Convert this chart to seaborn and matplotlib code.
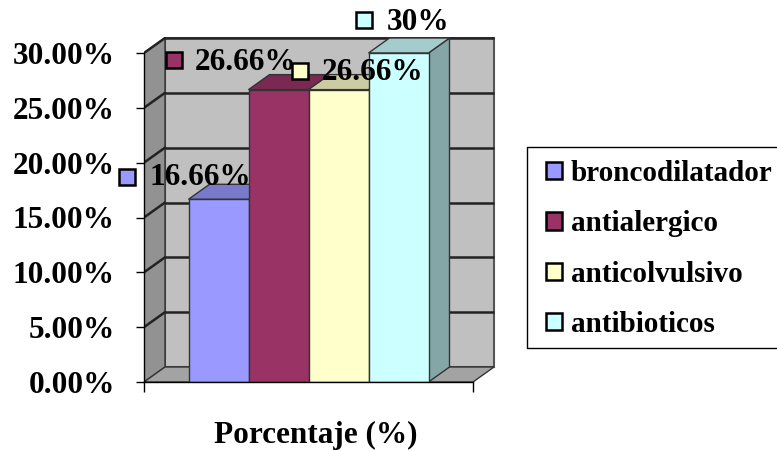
import matplotlib
matplotlib.use("Agg")
import matplotlib.pyplot as plt
from matplotlib.patches import Polygon, Patch, Rectangle
from matplotlib.transforms import offset_copy
import matplotlib.colors as mcolors
import seaborn as sns

# Data
categories = ["broncodilatador", "antialergico", "anticolvulsivo", "antibioticos"]
values = [16.66, 26.66, 26.66, 30]
y_ticks = [0, 5, 10, 15, 20, 25, 30]
x_title = "Porcentaje (%)"

# Styling
bar_colors = ["#9999FF", "#993366", "#FFFFCC", "#CCFFFF"]
# pixel offsets of value labels (text left edge / marker centre) from each bar top
label_text_off = [(-68.5, 22), (-83.5, 27.5), (-16.5, 17.5), (-11.5, 31)]
label_mark_off = [(-91.5, 22.5), (-104.5, 29.5), (-38.5, 18.5), (-34.5, 33)]

sns.set_theme(style="white")
plt.rcParams["font.family"] = ["Liberation Serif", "DejaVu Serif"]
plt.rcParams["font.weight"] = "bold"
for key in ("text.color", "axes.labelcolor", "xtick.color", "ytick.color"):
    plt.rcParams[key] = "black"

W, H = 777, 450
fig = plt.figure(figsize=(W / 100, H / 100), dpi=100)
ax_left, ax_right, ax_bottom, ax_top = 144, 500, 382, 37
ax = fig.add_axes([ax_left / W, 1 - ax_bottom / H,
                   (ax_right - ax_left) / W, (ax_bottom - ax_top) / H])
ax.set_facecolor("none")

px_per_unit = 60.0
px_per_pct = 329 / 30.0
xL = (144 - 218.5) / px_per_unit
xR = (473 - 218.5) / px_per_unit

# depth offset of the 3D box
ddx = 21 / px_per_unit
ddy = 15 / px_per_pct
ymax = max(y_ticks)

# front faces of the columns
sns.barplot(x=categories, y=values, hue=categories, palette=bar_colors, saturation=1,
            width=1.0, legend=False, edgecolor="#333333", linewidth=1.0, zorder=3, ax=ax)

ax.set_xlim(xL, xL + (ax_right - ax_left) / px_per_unit)
ax.set_ylim(0, (ax_bottom - ax_top) / px_per_pct)

# walls and floor
floor = Polygon([(xL, 0), (xR, 0), (xR + ddx, ddy), (xL + ddx, ddy)],
                closed=True, facecolor="#A3A3A3", edgecolor="#333333", lw=1, zorder=1)
lwall = Polygon([(xL, 0), (xL + ddx, ddy), (xL + ddx, ymax + ddy), (xL, ymax)],
                closed=True, facecolor="#929292", edgecolor="#333333", lw=1, zorder=0.8)
bwall = Polygon([(xL + ddx, ddy), (xR + ddx, ddy), (xR + ddx, ymax + ddy), (xL + ddx, ymax + ddy)],
                closed=True, facecolor="#C0C0C0", edgecolor="#555555", lw=1.5, zorder=0.7)
for p in (bwall, lwall, floor):
    ax.add_patch(p)
for t in y_ticks[1:]:
    ax.plot([xL + ddx, xR + ddx], [t + ddy, t + ddy], color="#222222", lw=1.8, zorder=0.9,
            solid_capstyle="butt")
    ax.plot([xL, xL + ddx], [t, t + ddy], color="#222222", lw=1.8, zorder=0.9)


def shade(c, f):
    r, g, b = mcolors.to_rgb(c)
    return (r * f, g * f, b * f)


# tops and sides of the columns
for i, (v, c) in enumerate(zip(values, bar_colors)):
    x0, x1 = i - 0.5, i + 0.5
    side = Polygon([(x1, 0), (x1 + ddx, ddy), (x1 + ddx, v + ddy), (x1, v)], closed=True,
                   facecolor=shade(c, 0.65), edgecolor="#333333", lw=1.0, zorder=2)
    top = Polygon([(x0, v), (x1, v), (x1 + ddx, v + ddy), (x0 + ddx, v + ddy)], closed=True,
                  facecolor=shade(c, 0.8), edgecolor="#333333", lw=1.0, zorder=2.1)
    ax.add_patch(side)
    ax.add_patch(top)

# value labels with key markers
for i, (v, c) in enumerate(zip(values, bar_colors)):
    tx, ty = label_text_off[i]
    mx, my = label_mark_off[i]
    tr_m = offset_copy(ax.transData, fig=fig, x=mx, y=my, units="dots")
    ax.plot([i], [v], marker="s", ms=11, mfc=c, mec="black", mew=1.8,
            transform=tr_m, clip_on=False, zorder=10 + 2 * i + 1)
    ax.annotate(f"{v:g}%", xy=(i, v), xytext=(tx * 0.72, ty * 0.72),
                textcoords="offset points", ha="left", va="center",
                fontsize=22.5, fontweight="bold", color="black",
                annotation_clip=False, zorder=10 + 2 * i)

# axes
for s in ("top", "right"):
    ax.spines[s].set_visible(False)
ax.spines["left"].set_bounds(0, ymax)
ax.spines["bottom"].set_bounds(xL, xR)
for s in ("left", "bottom"):
    ax.spines[s].set_color("black")
    ax.spines[s].set_linewidth(1.0)
    ax.spines[s].set_zorder(4)
ax.set_yticks(y_ticks)
ax.set_yticklabels([f"{t:.2f}%" for t in y_ticks], fontsize=22.5, fontweight="bold")
ax.set_xticks([xL, xR])
ax.set_xticklabels(["", ""])
ax.tick_params(axis="y", direction="out", length=6, width=1, color="black", pad=15, left=True)
ax.tick_params(axis="x", direction="out", length=7, width=1, color="black", bottom=True)
ax.set_xlabel(x_title, fontsize=22.5, fontweight="bold")
ax.set_ylabel("")
ax.xaxis.set_label_coords((316 - ax_left) / (ax_right - ax_left),
                          (ax_bottom - 435) / (ax_bottom - ax_top))
ax.xaxis.label.set_va("center")

# legend
handles = [Patch(facecolor=c, edgecolor="black", linewidth=1.8, label=n)
           for n, c in zip(categories, bar_colors)]
leg = fig.legend(handles=handles, loc="upper left", bbox_to_anchor=(546 / W, 1 - 160 / H),
                 frameon=False, fontsize=21, handlelength=0.55, handleheight=0.55,
                 handletextpad=0.3, labelspacing=0.8, borderpad=0, borderaxespad=0)
for t in leg.get_texts():
    t.set_fontweight("bold")
    t.set_color("black")
fig.patches.append(Rectangle((527 / W, 1 - 348 / H), (800 - 527) / W, (348 - 147) / H,
                             transform=fig.transFigure, facecolor="white",
                             edgecolor="black", lw=1.0, zorder=0))

fig.savefig("out.png", dpi=100)
